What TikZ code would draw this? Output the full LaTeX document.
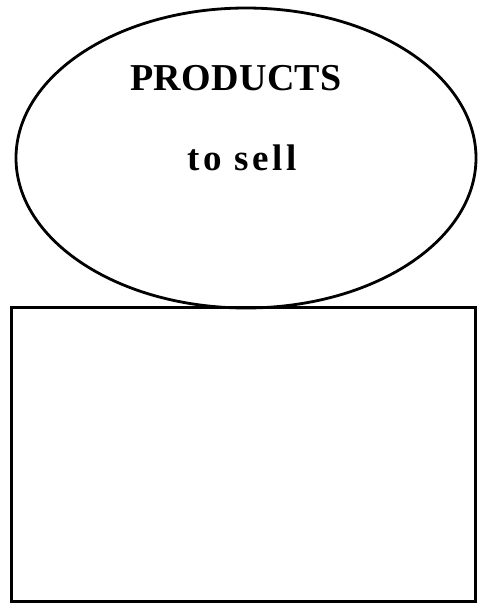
\documentclass[tikz,border=0pt]{standalone}
\usepackage{fontspec}
\setmainfont{Liberation Serif}
\newfontfamily\prodfont[LetterSpace=1]{Liberation Serif}
\newfontfamily\sellfont[LetterSpace=10]{Liberation Serif}
\usetikzlibrary{shapes.geometric}
\begin{document}
\begin{tikzpicture}[x=1pt,y=1pt,
  outline/.style={draw=black,line width=2.8pt},
  label/.style={anchor=base,inner sep=0pt}]
\useasboundingbox (0,0) rectangle (477,-605);
\node[outline,ellipse,inner sep=0pt,minimum width=460,minimum height=300] (prod) at (246,-158) {};
\node[outline,rectangle,inner sep=0pt,minimum width=464,minimum height=294,anchor=north west] (box) at (10,-306) {};
\node[label,font=\prodfont\bfseries\fontsize{38}{44}\selectfont] (t1) at (236,-90) {PRODUCTS};
\node[label,font=\sellfont\bfseries\fontsize{37}{44}\selectfont] (t2) at (242,-170) {to sell};
\end{tikzpicture}
\end{document}
